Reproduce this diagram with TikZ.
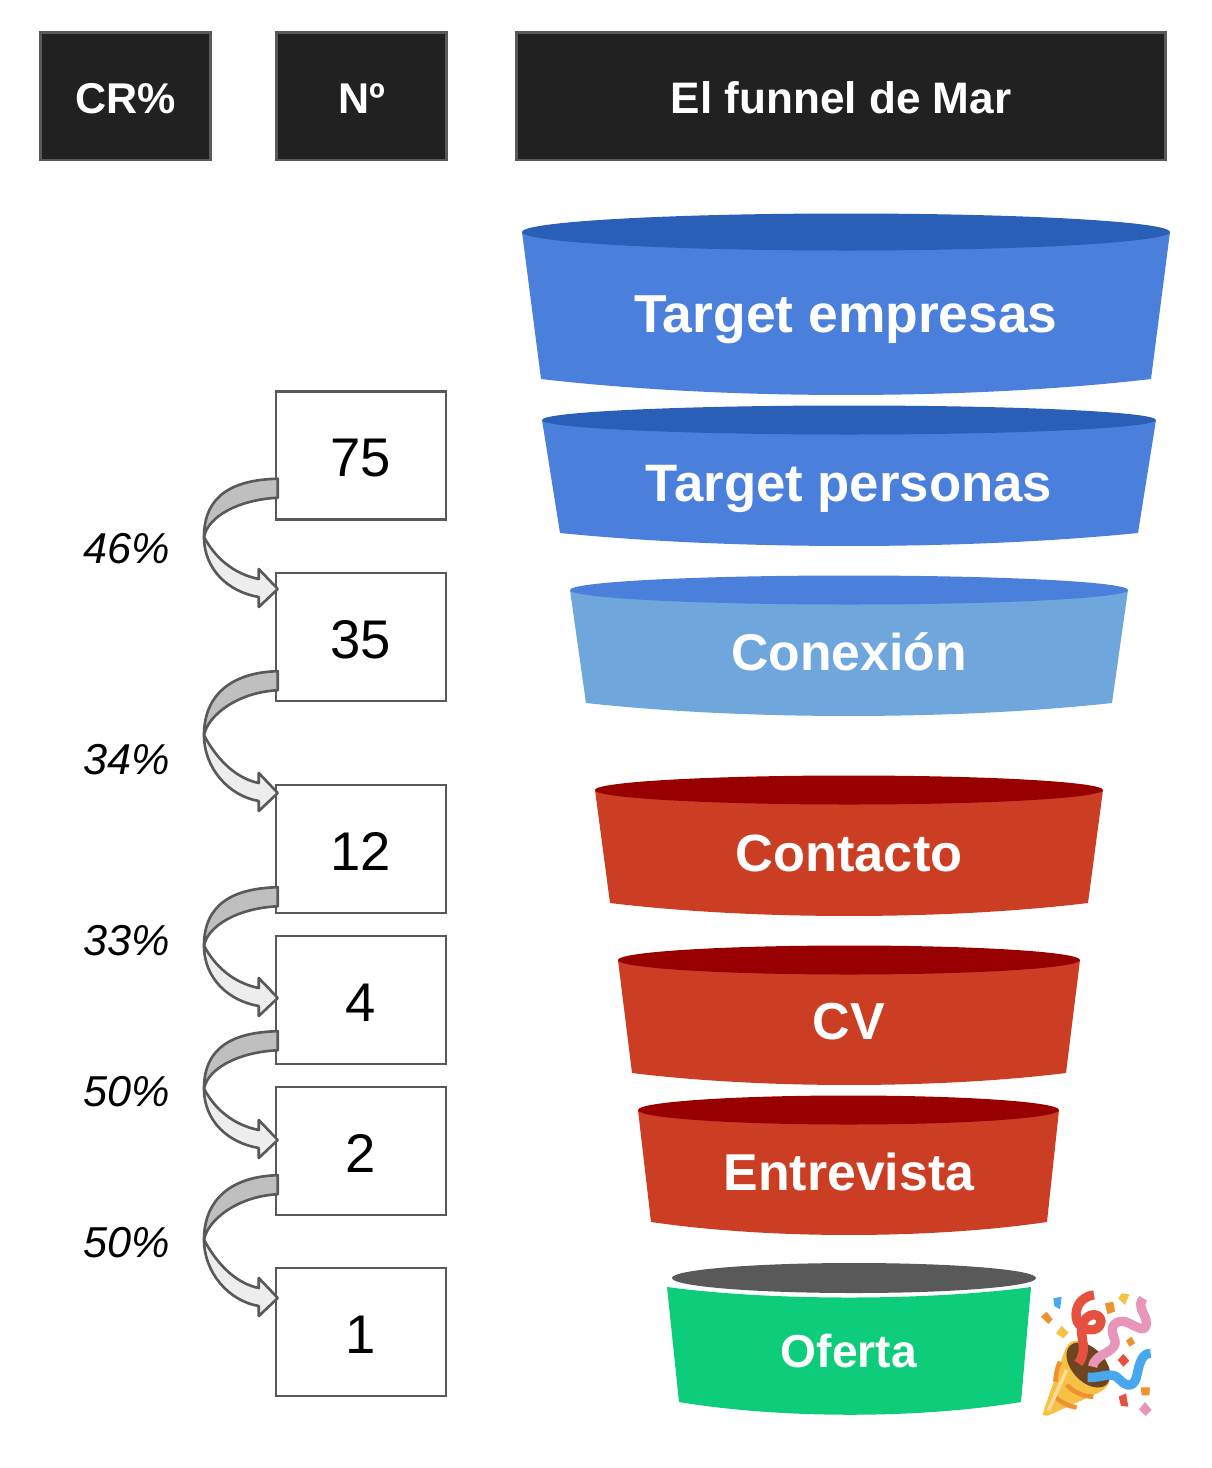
\documentclass[tikz,border=0pt]{standalone}
\usepackage{fontspec}
\setmainfont{Liberation Sans}
\usepackage{xcolor}
\usetikzlibrary{calc}
\definecolor{headfill}{HTML}{212121}
\definecolor{edgegray}{HTML}{595959}
\definecolor{bluebody}{HTML}{4A80DC}
\definecolor{bluetop}{HTML}{2A5FB8}
\definecolor{skybody}{HTML}{6FA6DC}
\definecolor{redbody}{HTML}{CC3E23}
\definecolor{redtop}{HTML}{980000}
\definecolor{greenbody}{HTML}{0DCC7A}
\definecolor{popyellow}{HTML}{F6C244}
\definecolor{poporange}{HTML}{EE9130}
\definecolor{popred}{HTML}{E5503F}
\definecolor{poppink}{HTML}{E795B8}
\definecolor{popblue}{HTML}{47A8EE}
\definecolor{popbrown}{HTML}{6F4420}
\tikzset{
  headbox/.style={draw=edgegray, line width=1.7pt, fill=headfill, text=white, text height=19.5pt, text depth=0pt, font=\fontsize{24.5}{29}\selectfont\bfseries},
  numbox/.style={draw=edgegray, line width=1.4pt, fill=white, text height=24pt, text depth=0pt, font=\fontsize{31}{36}\selectfont},
  crlabel/.style={font=\fontsize{24.6}{29}\selectfont\itshape},
  crdark/.style={draw=edgegray, line width=1.5pt, line join=round, fill=black!25},
  crlight/.style={draw=edgegray, line width=1.5pt, line join=round, fill=black!7},
  ribbon/.style={line width=5.3pt, line cap=butt, line join=round},
}
\begin{document}
\begin{tikzpicture}[x=0.02cm, y=-0.02cm]
\useasboundingbox (0,0) rectangle (1212,1468);
% Header row
\node[headbox, minimum width=3.42cm, minimum height=2.56cm] (headcr) at (125.5,96) {CR\%};
\node[headbox, minimum width=3.4cm, minimum height=2.56cm] (headnum) at (361.5,96) {Nº};
\node[headbox, minimum width=13cm, minimum height=2.56cm, font=\fontsize{25.1}{29}\selectfont\bfseries] (headfunnel) at (841,96) {El funnel de Mar};
% Number boxes
\foreach \nm/\cy/\txt in {n75/455.5/75, n35/637/35, n12/849/12, n4/1000/4, n2/1151/2, n1/1332/1} {
  \node[numbox, minimum width=3.4cm, minimum height=2.56cm] (\nm) at (361,\cy) {\txt};
}
% Curved block arrows between the boxes
\foreach \a/\b/\sy/\ty/\lab/\ly in {n75/n35/-42/-48/46/549, n35/n12/-31/-56/34/760, n12/n4/-27/-2/33/941, n4/n2/-34/-11/50/1092, n2/n1/-41/-34/50/1243} {
  \path (\a.south west) ++(3,\sy) coordinate (st);
  \path (\b.west) ++(3,\ty) coordinate (tp);
  \coordinate (bd) at ($(st)!0.5!(tp)+(0,3)$);
  \path (204,0) coordinate (lf);
  \coordinate (bd) at (lf |- bd);
  \fill[crdark] (st) .. controls ($(st)+(-44,1)$) and ($(bd)+(0,-42)$) .. (bd)
    .. controls ($(bd)+(4,-20)$) and ($(st)+(-40,21)$) .. ($(st)+(0,19)$) -- cycle;
  \fill[crlight] (bd) .. controls ($(bd)+(0,33)$) and ($(tp)+(-49,3)$) .. ($(tp)+(-19,8)$)
    -- ($(tp)+(-19,18)$) -- (tp) -- ($(tp)+(-19,-20)$) -- ($(tp)+(-19,-10)$)
    .. controls ($(tp)+(-44,-15)$) and ($(bd)+(11,21)$) .. (bd) -- cycle;
  \node[crlabel] at (126.5,\ly) {\lab\%};
}
% Funnel stages
\foreach \nm/\xl/\xr/\yt/\ry/\bl/\br/\yb/\sg/\cbody/\ctop/\ty/\fs/\txt in {
  fa/522/1170/232/18.5/541/1151/379/16/bluebody/bluetop/320/30.4/Target empresas,
  fb/542/1156/420/14.5/560/1138/533/13/bluebody/bluetop/489/30/Target personas,
  fc/570/1128/590/14.5/586/1112/703/13/skybody/bluebody/652/29.4/Conexión,
  fd/595/1103/790/14.5/610/1088/903/13/redbody/redtop/853/29.8/Contacto,
  fe/618/1080/960/14.5/632/1066/1073/12/redbody/redtop/1022/29.6/CV,
  ff/638/1059/1110/14.5/651/1047/1222/13/redbody/redtop/1172/29.5/Entrevista} {
  \fill[\cbody] (\xl,\yt) -- (\xr,\yt) -- (\br,\yb)
    .. controls ({\br-0.3*(\br-\bl)},{\yb+1.33*\sg}) and ({\bl+0.3*(\br-\bl)},{\yb+1.33*\sg}) .. (\bl,\yb) -- cycle;
  \fill[\ctop] ({(\xl+\xr)/2},\yt) ellipse[x radius={(\xr-\xl)/2}, y radius=\ry];
  \node[text=white, font=\fontsize{\fs}{36}\selectfont\bfseries] (\nm) at ({(\bl+\br)/2},\ty) {\txt};
}
% Last stage
\fill[greenbody] (667,1287) .. controls (770,1301) and (928,1301) .. (1031,1287)
  -- (1021,1402) .. controls (918,1419) and (782,1419) .. (679,1402) -- cycle;
\fill[edgegray] (854,1278) ellipse[x radius=182, y radius=15];
\node[text=white, font=\fontsize{26.3}{30}\selectfont\bfseries] (fg) at (849,1351) {Oferta};
% Party popper, in the pixels of a 3x crop
\begin{scope}[shift={(1020,1270)}, x=0.00667cm, y=-0.00667cm]
\fill[popyellow, rounded corners=3pt] (70,443) -- (68,430) -- (140,225) -- (165,208) -- (225,235) -- (272,335) -- (250,362) -- cycle;
\draw[poporange, line width=2.6pt] (120,275) .. controls (108,300) and (108,320) .. (106,335);
\draw[poporange, line width=2.6pt] (140,345) .. controls (160,365) and (190,380) .. (220,380);
\draw[poporange, line width=2.6pt] (102,378) .. controls (120,395) and (145,410) .. (170,412);
\draw[popyellow!55!white, line width=2pt] (85,422) -- (140,300);
\fill[popbrown, rotate around={-47:(205,285)}] (205,285) ellipse[x radius=80, y radius=50];
\draw[ribbon, popred] (222,75) .. controls (175,80) and (160,125) .. (172,155)
  .. controls (185,185) and (240,190) .. (243,155) .. controls (243,125) and (195,125) .. (185,170)
  .. controls (180,200) and (205,240) .. (175,280);
\draw[ribbon, poppink] (218,290) .. controls (225,245) and (300,250) .. (283,205)
  .. controls (265,165) and (290,150) .. (315,155) .. controls (345,165) and (385,200) .. (378,150)
  .. controls (372,125) and (350,110) .. (370,85);
\draw[ribbon, popblue] (203,322) .. controls (250,325) and (275,300) .. (300,330)
  .. controls (325,355) and (345,350) .. (352,310) .. controls (360,270) and (370,250) .. (392,250);
\fill[popblue] (100,85) -- (125,80) -- (120,118) -- (103,108) -- cycle;
\fill[poporange] (63,140) -- (80,125) -- (98,148) -- (85,162) -- cycle;
\fill[popyellow] (108,190) -- (125,167) -- (146,188) -- (130,205) -- cycle;
\fill[poporange] (255,100) -- (280,95) -- (285,125) -- (262,132) -- cycle;
\fill[popyellow] (295,85) -- (305,70) -- (328,73) -- (315,105) -- cycle;
\fill[poporange] (318,212) -- (335,200) -- (345,220) -- (328,230) -- cycle;
\fill[popred] (293,270) -- (310,252) -- (328,272) -- (310,290) -- cycle;
\fill[poporange] (362,352) -- (390,352) -- (388,376) -- (365,376) -- cycle;
\fill[popred] (296,380) -- (318,370) -- (325,410) -- (303,408) -- cycle;
\fill[poppink] (357,418) -- (375,396) -- (395,420) -- (377,438) -- cycle;
\end{scope}
\end{tikzpicture}
\end{document}
